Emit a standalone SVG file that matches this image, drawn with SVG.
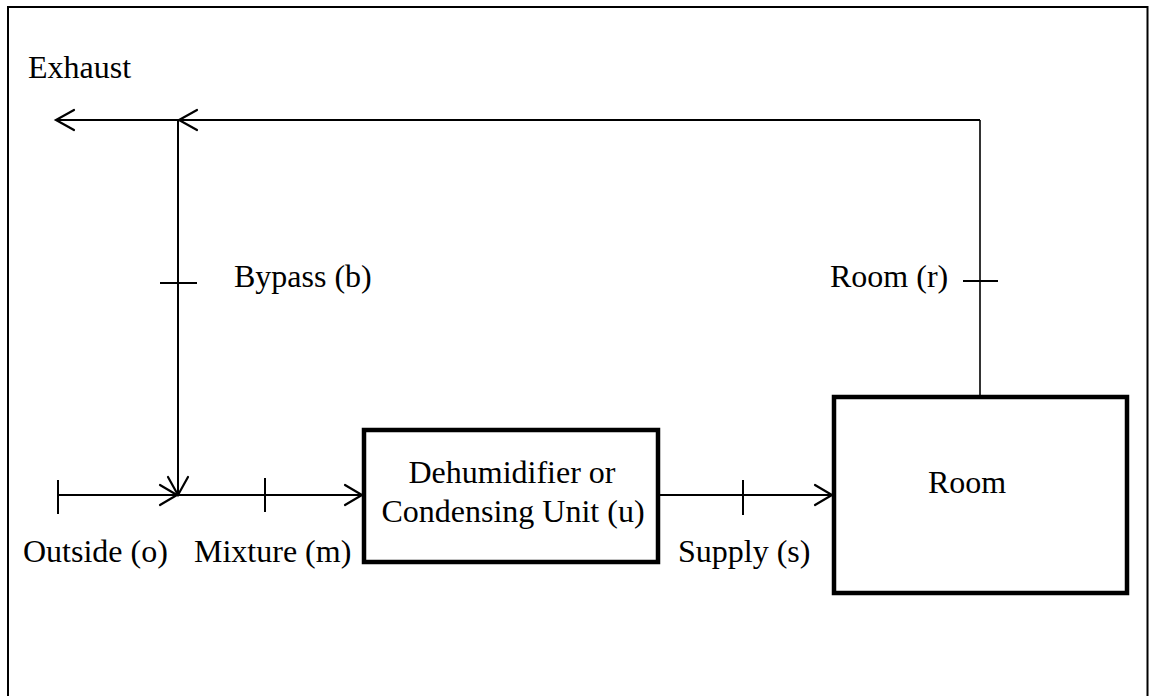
<svg xmlns="http://www.w3.org/2000/svg" width="1149" height="696" viewBox="0 0 1149 696">
<style>
text{font-family:"Liberation Serif","Times New Roman",serif;font-size:32px;fill:#000}
.ln{stroke:#000;stroke-width:2;fill:none}
.thin{stroke:#000;stroke-width:1.6;fill:none}
.box{stroke:#000;stroke-width:4.5;fill:#fff}
.ah{stroke:#000;stroke-width:2.2;fill:none;stroke-linecap:round}
</style>
<rect x="8" y="7" width="1139.5" height="700" fill="#fff" stroke="#000" stroke-width="2"/>
<g id="connectors">
  <!-- top return line -->
  <line class="ln" x1="56" y1="120" x2="980" y2="120"/>
  <line class="thin" x1="980" y1="120" x2="980" y2="396"/>
  <polyline class="ah" points="74,110 56,120 74,130"/>
  <polyline class="ah" points="197,110 179,120 197,130"/>
  <!-- bypass vertical -->
  <line class="ln" x1="178" y1="120" x2="178" y2="495"/>
  <polyline class="ah" points="168,477 178,495 188,477"/>
  <!-- bottom line -->
  <line class="ln" x1="58" y1="495" x2="363" y2="495"/>
  <polyline class="ah" points="160,485 177,495 160,505"/>
  <polyline class="ah" points="345,485 362,495 345,505"/>
  <line class="ln" x1="658" y1="495" x2="833" y2="495"/>
  <polyline class="ah" points="815,485 832,495 815,505"/>
  <!-- ticks -->
  <line class="ln" x1="58" y1="480" x2="58" y2="514"/>
  <line class="ln" x1="265" y1="478" x2="265" y2="512"/>
  <line class="ln" x1="743" y1="480" x2="743" y2="515"/>
  <line class="ln" x1="160" y1="283" x2="197" y2="283" stroke-width="2.5"/>
  <line class="ln" x1="963" y1="281" x2="998" y2="281" stroke-width="2.5"/>
</g>
<g id="exhaust-label"><text x="28" y="78">Exhaust</text></g>
<g id="bypass-label"><text x="234" y="287">Bypass (b)</text></g>
<g id="room-r-label"><text x="830" y="287">Room (r)</text></g>
<g id="outside-label"><text x="23" y="562">Outside (o)</text></g>
<g id="mixture-label"><text x="194" y="562">Mixture (m)</text></g>
<g id="supply-label"><text x="678" y="562">Supply (s)</text></g>
<g id="dehumidifier">
  <rect class="box" x="364" y="430" width="294" height="132"/>
  <text x="512" y="483" text-anchor="middle">Dehumidifier or</text>
  <text x="513" y="522" text-anchor="middle">Condensing Unit (u)</text>
</g>
<g id="room">
  <rect class="box" x="834" y="397" width="293" height="196"/>
  <text x="967" y="493" text-anchor="middle">Room</text>
</g>
</svg>
